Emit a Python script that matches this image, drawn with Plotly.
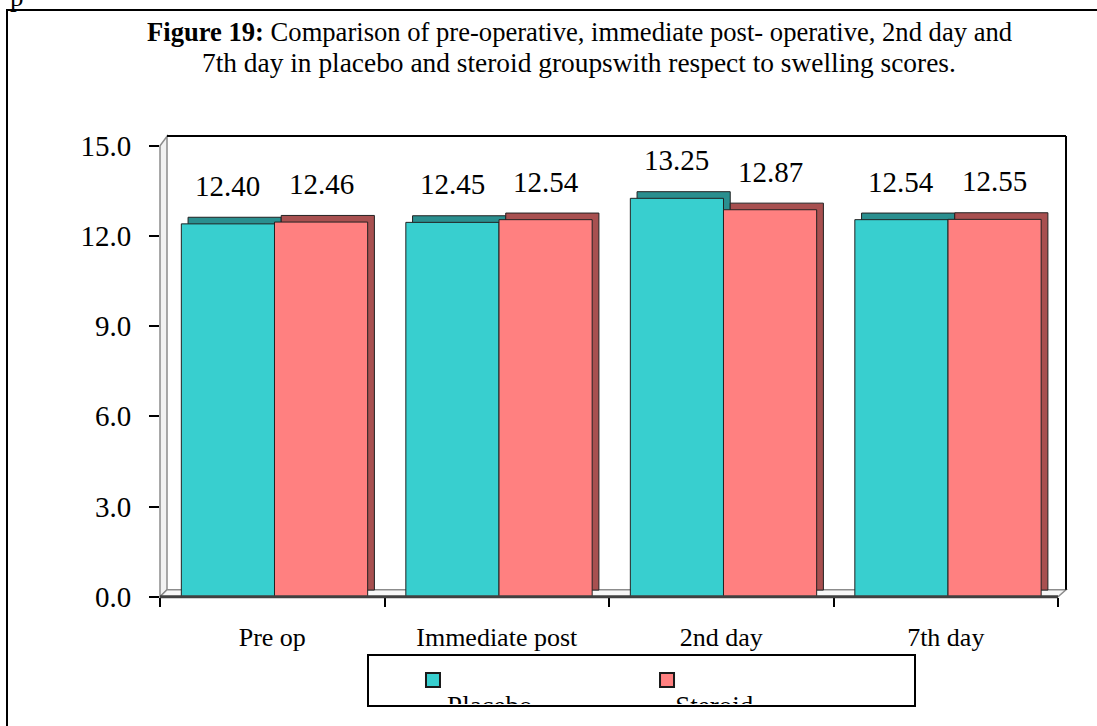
import plotly.graph_objects as go

categories = ["Pre op", "Immediate post", "2nd day", "7th day"]
placebo = [12.40, 12.45, 13.25, 12.54]
steroid = [12.46, 12.54, 12.87, 12.55]
series_names = ["Placebo", "Steroid"]
y_ticks = [0, 3, 6, 9, 12, 15]

W, H = 1097, 726
FONT = "Liberation Serif, Times New Roman, serif"

TEAL = "#38CFCF"
TEAL_DARK = "#2A8F8F"
RED = "#FF8080"
RED_DARK = "#A85050"


def px(x):
    return x / W


def py(y):
    return (H - y) / H


# plot area in pixels
PL, PR, PT, PB = 160, 1058, 145.7, 596.7
DX, DY = 7, 8  # 3D depth

fig = go.Figure()

bar_w = 0.415
depth_x = 0.03
depth_y = 0.22
offsets = [-0.405, 0.01]
cols = [(TEAL, TEAL_DARK), (RED, RED_DARK)]

for vals, name, off, (c, cd) in zip([placebo, steroid], series_names, offsets, cols):
    # depth (top/side face)
    fig.add_trace(go.Bar(
        x=categories, y=vals, base=[depth_y] * len(vals),
        offset=off + depth_x, width=bar_w,
        marker=dict(color=cd, line=dict(color="#222222", width=1)),
        showlegend=False, hoverinfo="skip", xaxis="x", yaxis="y"))
    # front face
    fig.add_trace(go.Bar(
        x=categories, y=vals, name=name,
        offset=off, width=bar_w,
        marker=dict(color=c, line=dict(color="#222222", width=1)),
        showlegend=False, xaxis="x", yaxis="y"))

# data labels
for vals, off in zip([placebo, steroid], offsets):
    for i, v in enumerate(vals):
        fig.add_annotation(
            x=i + off + bar_w / 2, y=v, xref="x", yref="y",
            text=f"{v:.2f}", showarrow=False, yshift=38,
            font=dict(family=FONT, size=29, color="black"))

# legend subplot (clipped text)
LX0, LX1, LY0, LY1 = 370, 913, 657, 704
fig.add_trace(go.Scatter(
    x=[0.116, 0.547], y=[0.51, 0.51], mode="markers",
    marker=dict(symbol="square", size=14, color=[TEAL, RED],
                line=dict(color="#1a1a1a", width=2)),
    showlegend=False, hoverinfo="skip", xaxis="x2", yaxis="y2", cliponaxis=True))
fig.add_trace(go.Scatter(
    x=[0.142, 0.562], y=[-0.1, -0.1], mode="text", text=series_names,
    textposition="middle right",
    textfont=dict(family=FONT, size=27, color="black"),
    showlegend=False, hoverinfo="skip", xaxis="x2", yaxis="y2", cliponaxis=True))

shapes = []
# outer border
shapes.append(dict(type="rect", xref="paper", yref="paper",
                   x0=px(7), x1=1.02, y0=-0.02, y1=py(10),
                   line=dict(color="black", width=2), layer="below"))
# left wall
shapes.append(dict(type="path", xref="paper", yref="paper",
                   path=f"M {px(PL)} {py(PB)} L {px(PL)} {py(PT)} L {px(PL+DX)} {py(PT-DY-1.5)} L {px(PL+DX)} {py(PB-DY+1)} Z",
                   fillcolor="#f2f2f2", line=dict(color="#8c8c8c", width=1.5), layer="below"))
# floor
shapes.append(dict(type="path", xref="paper", yref="paper",
                   path=f"M {px(PL)} {py(PB)} L {px(PL+DX)} {py(PB-DY+1)} L {px(PR+DX+1)} {py(PB-DY+1)} L {px(PR)} {py(PB)} Z",
                   fillcolor="#f7f7f7", line=dict(color="#8c8c8c", width=1.5), layer="below"))
# back wall top & right edges
shapes.append(dict(type="line", xref="paper", yref="paper",
                   x0=px(PL+DX), x1=px(PR+8), y0=py(136), y1=py(136),
                   line=dict(color="black", width=2), layer="below"))
shapes.append(dict(type="line", xref="paper", yref="paper",
                   x0=px(PR+8), x1=px(PR+8), y0=py(136), y1=py(PB-DY+1),
                   line=dict(color="black", width=2), layer="below"))
# front x-axis line
shapes.append(dict(type="line", xref="paper", yref="paper",
                   x0=px(PL), x1=px(PR), y0=py(PB), y1=py(PB),
                   line=dict(color="#404040", width=3), layer="above"))
# legend box
shapes.append(dict(type="rect", xref="paper", yref="paper",
                   x0=px(368), x1=px(915), y0=py(706), y1=py(655),
                   line=dict(color="black", width=2), fillcolor="white", layer="below"))

annotations = list(fig.layout.annotations)
annotations.append(dict(
    xref="paper", yref="paper", x=px(579), y=py(32), xanchor="center", yanchor="middle",
    text="<b>Figure 19:</b> Comparison of pre-operative, immediate post- operative, 2nd day and",
    showarrow=False, font=dict(family=FONT, size=26.6, color="black")))
annotations.append(dict(
    xref="paper", yref="paper", x=px(579), y=py(63), xanchor="center", yanchor="middle",
    text="7th day in placebo and steroid groupswith respect to swelling scores.",
    showarrow=False, font=dict(family=FONT, size=27.4, color="black")))
annotations.append(dict(
    xref="paper", yref="paper", x=px(8), y=py(-3), xanchor="left", yanchor="middle",
    text="p", showarrow=False, font=dict(family=FONT, size=27, color="black")))

fig.update_layout(
    width=W, height=H,
    autosize=False,
    margin=dict(l=0, r=0, t=0, b=0, pad=0, autoexpand=False),
    paper_bgcolor="white", plot_bgcolor="rgba(0,0,0,0)",
    barmode="overlay",
    shapes=shapes, annotations=annotations,
    font=dict(family=FONT, color="black"),
    xaxis=dict(domain=[px(PL), px(PR)], type="category",
               categoryorder="array", categoryarray=categories,
               range=[-0.5, 3.5], automargin=False,
               tickson="boundaries", ticks="outside", ticklen=9, tickwidth=2,
               ticklabelstandoff=22,
               tickcolor="black", showline=False, showgrid=False, zeroline=False,
               tickfont=dict(family=FONT, size=26, color="black"),
               anchor="y"),
    yaxis=dict(domain=[py(PB), py(PT)], range=[0, 15], tickvals=y_ticks,
               tickformat=".1f", ticks="outside", ticklen=10, tickwidth=2,
               ticklabelstandoff=12,
               automargin=False,
               tickcolor="black", showline=False, showgrid=False, zeroline=False,
               tickfont=dict(family=FONT, size=29, color="black"),
               anchor="x"),
    xaxis2=dict(domain=[px(LX0), px(LX1)], range=[0, 1], visible=False,
                automargin=False, anchor="y2", fixedrange=True),
    yaxis2=dict(domain=[py(LY1), py(LY0)], range=[0, 1], visible=False,
                automargin=False, anchor="x2", fixedrange=True),
)

fig.write_html(
    "out.html",
    config={"displayModeBar": False},
    post_script="document.body.style.margin='0';"
                "document.body.style.overflow='hidden';"
                "document.documentElement.style.overflow='hidden';")
